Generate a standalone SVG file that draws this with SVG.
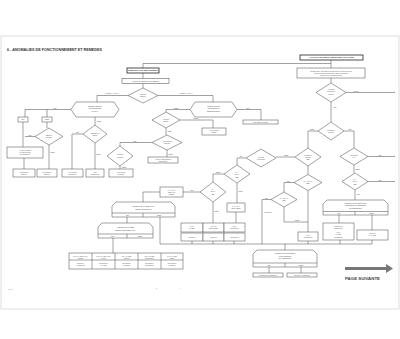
<svg xmlns="http://www.w3.org/2000/svg" width="400" height="339" viewBox="0 0 400 339">
<style>
.b{fill:#fff;stroke:#444;stroke-width:.5}
.bb{fill:#fff;stroke:#222;stroke-width:.8}
.l{fill:none;stroke:#444;stroke-width:.5}
.t{font-family:"Liberation Sans",Arial,sans-serif;font-size:2px;fill:#444;text-anchor:middle}
.s{font-family:"Liberation Sans",Arial,sans-serif;font-size:1.8px;fill:#555;text-anchor:middle}
.h{font-family:"Liberation Sans",Arial,sans-serif;font-size:2.3px;font-weight:bold;fill:#333;text-anchor:middle}
</style>
<rect x="1" y="36" width="398" height="273" fill="none" stroke="#ddd" stroke-width="1"/>
<text x="7" y="51" font-family="Liberation Sans,Arial,sans-serif" font-size="3.3" font-weight="bold" fill="#333" textLength="95" lengthAdjust="spacingAndGlyphs">6 - ANOMALIES DE FONCTIONNEMENT ET REMEDES</text>
<g id="connectors">
<path class="l" d="M143,68V63.5H331M331,60V68M143,73V78.5M143,83.5V88"/>
<path class="l" d="M128,95.5H97V102M158,95.5H213V102"/>
<path class="l" d="M71,109.5H25V117M47,109.5V117M47,122V128M23,122V147M35,136.5H25M24,158V169M49,145V169"/>
<path class="l" d="M95,117V125M83,134H72V169M95,143V169M152,142.5H120V146M120,166V169"/>
<path class="l" d="M190,109.5H166V112M180,120H213V128M166,128V135M167,150V157M237,109.5H261V120"/>
<path class="l" d="M331,78V83M346,92.5H395M331,102V122M318,131H308V148M344,131H354V148M368,156.5H395M354,165V173M368,181.5H395"/>
<path class="l" d="M295,157H276M308,166V174.5M237,165V158H246M224,174H213V182M237,183V203M200,192H183M213,202V223"/>
<path class="l" d="M160,192H143V202M127,217V223M160,217V244H372M113,238V253"/>
<path class="l" d="M294,182.5H284V192M271,199.5H262V244M284,207V222H308M308,190.5V232"/>
<path class="l" d="M355,190V200M339,215V223M372,215V230M340,240V244M372,240V244M308,241V244M192,241V244M213,241V244M234,241V244M236,212V223M285,244V250M269,267V273M301,267V273"/>
<g class="s">
<text x="112" y="94.3">Tension &lt; 11,5 V</text>
<text x="186" y="94.3">Tension ≥ 11,5 V</text>
<text x="55" y="108.5">OUI</text>
<text x="30" y="135.8">OUI</text>
<text x="52.5" y="153">NON</text>
<text x="99" y="121.5">NON</text>
<text x="77.5" y="133.3">OUI</text>
<text x="98.5" y="155">NON</text>
<text x="135" y="141.8">OUI</text>
<text x="124" y="168.3">NON</text>
<text x="176" y="108.8">NON</text>
<text x="196" y="119.3">affiché</text>
<text x="169.5" y="132">NON</text>
<text x="170.5" y="154.5">NON</text>
<text x="248" y="108.8">OUI</text>
<text x="356" y="91.8">correct</text>
<text x="335" y="108">OUI</text>
<text x="312" y="130.3">NON</text>
<text x="350" y="130.3">OUI</text>
<text x="380" y="155.8">OUI</text>
<text x="357.5" y="170">NON</text>
<text x="380" y="180.8">OUI</text>
<text x="286" y="156.3">NON</text>
<text x="241" y="157.3">OUI</text>
<text x="218" y="173.3">NON</text>
<text x="240.5" y="192">NON</text>
<text x="192" y="191.3">OUI</text>
<text x="216.5" y="212">NON</text>
<text x="288.5" y="181.8">OUI</text>
<text x="266.5" y="198.8">OUI</text>
<text x="268" y="213">Indicateur</text>
<text x="297" y="221.3">NON</text>
<text x="358.5" y="195">OUI</text>
</g>
</g>
<g id="A"><rect class="bb" x="127" y="68" width="32" height="5"/><text class="h" x="143" y="71.3" font-size="2">DEMARRAGE IMPOSSIBLE</text></g>
<g id="B"><rect class="b" x="122" y="78.5" width="47" height="5"/><text class="t" x="145.5" y="81.7">Vérifier la charge de la batterie</text></g>
<g id="D1"><polygon class="b" points="143,88 158,95.5 143,103 128,95.5"/><text class="s" x="143" y="95">Tension</text><text class="s" x="143" y="97.3">batterie</text></g>
<g id="H1"><polygon class="b" points="76,102 114,102 119,109.5 114,117 76,117 71,109.5"/><text class="t" x="95" y="106.5">Tension batterie</text><text class="t" x="95" y="109">au démarrage</text><text class="t" x="95" y="111.5">≥ 9,5 V</text></g>
<g id="C1"><rect class="b" x="18" y="117" width="10" height="5"/><text class="s" x="23" y="120">OUI</text></g>
<g id="C2"><rect class="b" x="42" y="117" width="10" height="5"/><text class="s" x="47" y="120">NON</text></g>
<g id="D2"><polygon class="b" points="49,128 63,136.5 49,145 35,136.5"/><text class="s" x="49" y="135.5">Batterie</text><text class="s" x="49" y="137.8">chargée</text></g>
<g id="C3"><rect class="b" x="7" y="147" width="36" height="11"/><text class="s" x="25" y="150.5">Vérifier câbles</text><text class="s" x="25" y="152.8">et connexions</text><text class="s" x="25" y="155.1">de la batterie</text></g>
<g id="C4"><rect class="b" x="13" y="169" width="22" height="8"/><text class="s" x="24" y="172.5">Remplacer</text><text class="s" x="24" y="174.8">batterie</text></g>
<g id="C5"><rect class="b" x="37" y="169" width="20" height="8"/><text class="s" x="47" y="172.5">Recharger</text><text class="s" x="47" y="174.8">batterie</text></g>
<g id="D3"><polygon class="b" points="95,125 107,134 95,143 83,134"/><text class="s" x="95" y="133.5">Démarreur</text><text class="s" x="95" y="135.8">tourne</text></g>
<g id="C6"><rect class="b" x="62" y="169" width="21" height="8"/><text class="s" x="72.5" y="172.5">Voir circuit</text><text class="s" x="72.5" y="174.8">démarreur</text></g>
<g id="C7"><rect class="b" x="86" y="169" width="18" height="8"/><text class="s" x="95" y="172.5">Voir</text><text class="s" x="95" y="174.8">démarreur</text></g>
<g id="D4"><polygon class="b" points="120,146 133,156 120,166 107,156"/><text class="s" x="120" y="155.3">Injection</text><text class="s" x="120" y="157.6">correcte</text></g>
<g id="C8"><rect class="b" x="109" y="169" width="24" height="8"/><text class="s" x="121" y="172.5">Voir circuit</text><text class="s" x="121" y="174.8">injection</text></g>
<g id="H2"><polygon class="b" points="195,102 232,102 237,109.5 232,117 195,117 190,109.5"/><text class="t" x="213.5" y="106.5">Moteur tourne</text><text class="t" x="213.5" y="109">au démarreur</text><text class="t" x="213.5" y="111.5">sans démarrer</text></g>
<g id="D5"><polygon class="b" points="166,112 180,120 166,128 152,120"/><text class="s" x="166" y="119.5">Défaut</text><text class="s" x="166" y="121.8">affiché</text></g>
<g id="D6"><polygon class="b" points="167,135 182,142.5 167,150 152,142.5"/><text class="s" x="167" y="142">Alimentation</text><text class="s" x="167" y="144.3">correcte</text></g>
<g id="E1"><rect class="b" x="202" y="128" width="24" height="7"/><text class="s" x="214" y="131">Voir défaut</text><text class="s" x="214" y="133.3">affiché</text></g>
<g id="E2"><rect class="b" x="148" y="157" width="30" height="6"/><text class="s" x="163" y="159.5">Vérifier alimentation</text><text class="s" x="163" y="161.8">calculateur</text></g>
<g id="E3"><rect class="b" x="243" y="120" width="35" height="4"/><text class="s" x="260.5" y="122.6">Voir page suivante</text></g>
<g id="R1"><rect class="bb" x="300" y="55" width="63" height="5"/><text class="h" x="331.5" y="58.3" font-size="2">AFFICHAGE INDICATEUR DEFAILLANCE</text></g>
<g id="R2"><rect class="b" x="297" y="68" width="68" height="10"/><text class="s" x="331" y="71.5">Contact mis, l'indicateur doit s'allumer puis s'éteindre</text><text class="s" x="331" y="73.8">après quelques secondes, moteur tournant</text><text class="s" x="331" y="76.1">(contrôle de fonctionnement)</text></g>
<g id="D7"><polygon class="b" points="331,83 346,92.5 331,102 316,92.5"/><text class="s" x="331" y="90">Allumage</text><text class="s" x="331" y="92.3">indicateur</text><text class="s" x="331" y="94.6">correct</text></g>
<g id="D8"><polygon class="b" points="331,122 344,131 331,140 318,131"/><text class="s" x="331" y="130.5">Indicateur</text><text class="s" x="331" y="132.8">allumé</text></g>
<g id="D9"><polygon class="b" points="308,148 321,157 308,166 295,157"/><text class="s" x="308" y="155.5">Indicateur</text><text class="s" x="308" y="157.8">clignote</text><text class="s" x="308" y="160.1">(DE)</text></g>
<g id="D10"><polygon class="b" points="354,148 368,156.5 354,165 340,156.5"/><text class="s" x="354" y="156">Indicateur</text><text class="s" x="354" y="158.3">fixe</text></g>
<g id="D11"><polygon class="b" points="355,173 368,181.5 355,190 342,181.5"/><text class="s" x="355" y="180">U &gt;</text><text class="s" x="355" y="182.3">11,5 V</text><text class="s" x="355" y="184.6">(DE)</text></g>
<g id="D12"><polygon class="b" points="261,149 276,158 261,167 246,158"/><text class="s" x="261" y="157.5">Défaut</text><text class="s" x="261" y="159.8">mémorisé</text></g>
<g id="D13"><polygon class="b" points="308,174.5 322,182.5 308,190.5 294,182.5"/><text class="s" x="308" y="182">U &lt; 11,5 V</text><text class="s" x="308" y="184.3">(DE)</text></g>
<g id="D14"><polygon class="b" points="213,182 226,192 213,202 200,192"/><text class="s" x="213" y="190">U &lt;</text><text class="s" x="213" y="192.3">11,5 V</text><text class="s" x="213" y="194.6">(DE)</text></g>
<g id="D15"><polygon class="b" points="237,165 250,174 237,183 224,174"/><text class="s" x="237" y="173">U &gt;</text><text class="s" x="237" y="175.3">11,5 V</text><text class="s" x="237" y="177.6">(DE)</text></g>
<g id="D16"><polygon class="b" points="284,192 297,199.5 284,207 271,199.5"/><text class="s" x="284" y="199">U &gt; 11,5 V</text><text class="s" x="284" y="201.3">(DE)</text></g>
<g id="E4"><rect class="b" x="227" y="203" width="18" height="9"/><text class="s" x="236" y="206.5">U &lt; 0,5 V</text><text class="s" x="236" y="208.8">(DE) masse</text></g>
<g id="G5"><rect class="b" x="160" y="187" width="23" height="10"/><text class="s" x="171.5" y="190.5">U &lt; 0,5 V</text><text class="s" x="171.5" y="192.8">(DE) à la</text><text class="s" x="171.5" y="195.1">masse</text></g>
<g id="G3"><path class="b" d="M112,217V206L116,202H171L175,206V217ZM112,213H175M143,213V217"/><text class="t" x="143.5" y="207">Contrôle du fil (DE) 1,2 V</text><text class="t" x="143.5" y="209.5">fusible défectueux</text><text class="s" x="127.5" y="215.7">OUI</text><text class="s" x="159" y="215.7">NON</text></g>
<g id="G4"><path class="b" d="M98,238V227L102,223H149L153,227V238ZM98,234H153M127,234V238"/><text class="t" x="125.5" y="228">Contrôle du fil (DE)</text><text class="t" x="125.5" y="230.5">fusible/relais (DE) 1,2 V</text><text class="s" x="112.5" y="236.7">OUI</text><text class="s" x="140" y="236.7">NON</text></g>
<g id="T"><rect class="b" x="69" y="253" width="114" height="16"/><path class="l" d="M69,260H183M92,253V269M115,253V269M138,253V269M161,253V269"/><g class="s"><text x="80.5" y="256.5">1,2 V fil (DE) 1,2 V</text><text x="80.5" y="258.5">masse</text><text x="103.5" y="256.5">1,2 V fil (DE) 1,2V</text><text x="103.5" y="258.5">relais</text><text x="126.5" y="256.5">1,2 V fil (DE)</text><text x="126.5" y="258.5">capteur</text><text x="149.5" y="256.5">1,2 V fil (DE)</text><text x="149.5" y="258.5">calculateur</text><text x="172" y="256.5">1,2 V fil (DE)</text><text x="172" y="258.5">fusible</text><text x="80.5" y="264">Réparer</text><text x="80.5" y="266">le faisceau</text><text x="103.5" y="264">Remplacer</text><text x="103.5" y="266">le relais</text><text x="126.5" y="264">Remplacer</text><text x="126.5" y="266">le capteur</text><text x="149.5" y="264">Remplacer</text><text x="149.5" y="266">calculateur</text><text x="172" y="264">Remplacer</text><text x="172" y="266">le fusible</text></g></g>
<g id="GRID"><rect class="b" x="181" y="223" width="22" height="9"/><rect class="b" x="203" y="223" width="21" height="9"/><rect class="b" x="224" y="223" width="21" height="9"/><rect class="b" x="181" y="233" width="22" height="8"/><rect class="b" x="203" y="233" width="21" height="8"/><rect class="b" x="224" y="233" width="21" height="8"/><g class="s"><text x="192" y="226.5">1,2 V</text><text x="192" y="228.8">fil (DE)</text><text x="213.5" y="226.5">1,2 V fil</text><text x="213.5" y="228.8">(DE) masse</text><text x="234.5" y="226.5">1,2 V</text><text x="234.5" y="228.8">calculateur</text><text x="192" y="237.5">Réparer</text><text x="213.5" y="237.5">Réparer</text><text x="234.5" y="237.5">Remplacer</text></g></g>
<g id="G1"><path class="b" d="M323,215V204L327,200H384L388,204V215ZM323,211.5H388M355,211.5V215"/><text class="t" x="355.5" y="203.8">Contrôle du fil (DE) entre</text><text class="t" x="355.5" y="206.3">calculateur et indicateur</text><text class="t" x="355.5" y="208.8">de défaillance</text><text class="s" x="339" y="214">OUI</text><text class="s" x="371.5" y="214">NON</text></g>
<g id="RL"><rect class="b" x="323" y="223" width="31" height="17"/><text class="s" x="338.5" y="227">Contrôler le</text><text class="s" x="338.5" y="229.3">calculateur</text><text class="s" x="338.5" y="232.5">1,2 V</text><text class="s" x="338.5" y="234.8">fil (DE)</text><text class="s" x="338.5" y="238">Remplacer</text></g>
<g id="RR"><rect class="b" x="357" y="230" width="31" height="10"/><text class="s" x="372.5" y="234">Réparer</text><text class="s" x="372.5" y="236.3">le fil (DE)</text></g>
<g id="E5"><rect class="b" x="298" y="232" width="20" height="9"/><text class="s" x="308" y="235.5">1,2 V</text><text class="s" x="308" y="237.8">calculateur</text></g>
<g id="G2"><path class="b" d="M253,267V254L257,250H313L317,254V267ZM253,263H317M285,263V267"/><text class="t" x="285" y="254">Contrôle du calculateur</text><text class="t" x="285" y="256.5">et du faisceau</text><text class="t" x="285" y="259">de l'indicateur</text><text class="s" x="269" y="265.7">OUI</text><text class="s" x="301" y="265.7">NON</text></g>
<g id="G2a"><rect class="b" x="253" y="273" width="30" height="4"/><text class="s" x="268" y="275.6">Remplacer calculateur</text></g>
<g id="G2b"><rect class="b" x="287" y="273" width="30" height="4"/><text class="s" x="302" y="275.6">Réparer le faisceau</text></g>
<g id="NEXT"><polygon points="345,267 386,267 386,264 393,268.5 386,273 386,270 345,270" fill="#777"/><text x="345" y="280" font-family="Liberation Sans,Arial,sans-serif" font-size="3.2" font-weight="bold" fill="#444" textLength="35" lengthAdjust="spacingAndGlyphs">PAGE SUIVANTE</text></g>
<g id="footer" font-family="Liberation Sans,Arial,sans-serif" fill="#888" font-size="1.8"><text x="8" y="289.5">14/91</text><text x="156" y="288.5">2</text><text x="179" y="288.5">4</text></g>
</svg>
